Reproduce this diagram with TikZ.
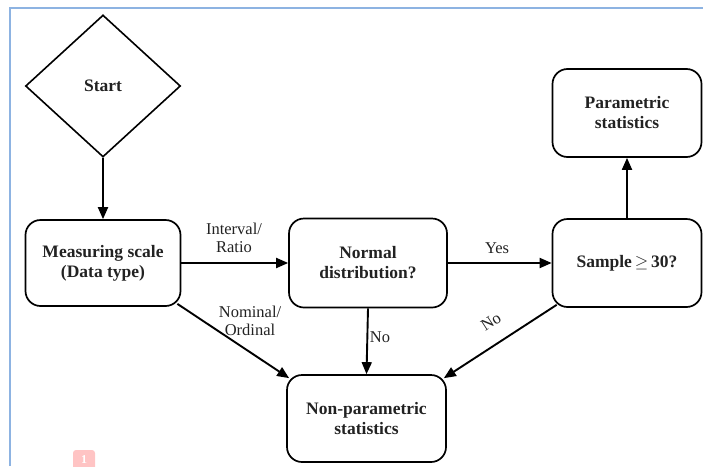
\documentclass[tikz,border=0pt]{standalone}
\usepackage{fontspec}
\setmainfont{Liberation Serif}
\usetikzlibrary{shapes.geometric,arrows.meta,calc}
\definecolor{txt}{HTML}{222222}
\definecolor{frameblue}{HTML}{8DB3E2}
\definecolor{badge}{HTML}{FFC4C4}
\begin{document}
\begin{tikzpicture}[x=1pt,y=-1pt,
  box/.style={draw=black,line width=1.7pt,rounded corners=15pt,align=center,
    font=\fontsize{17.5}{20}\selectfont\bfseries,text=txt,inner sep=0pt},
  startshape/.style={draw=black,line width=1.6pt,diamond,inner sep=0pt,
    minimum width=155pt,minimum height=142pt,font=\fontsize{17.5}{20}\selectfont\bfseries,text=txt},
  conn/.style={line width=1.9pt,-{Triangle[length=12pt,width=10pt]}},
  lbl/.style={font=\fontsize{16.5}{18.5}\selectfont,text=txt,align=center,inner sep=0pt}]
\useasboundingbox (0,0) rectangle (703,466);
% frame
\draw[frameblue,line width=2pt] (10,466) -- (10,8) -- (703,8);
% badge
\node[fill=badge,rounded corners=3pt,minimum width=22pt,minimum height=20pt,inner sep=0pt,
  text=white,font=\fontsize{12}{12}\selectfont\bfseries] (badge) at (84,460) {1};
% nodes
\node[startshape] (start) at (103,86) {Start};
\node[box,minimum width=155pt,minimum height=86pt] (meas) at (103,263) {Measuring scale\\(Data type)};
\node[box,minimum width=158pt,minimum height=89pt] (normal) at (368,263) {Normal\\distribution?};
\node[box,minimum width=149pt,minimum height=88pt] (sample) at (627,263) {Sample\,$\geq$\,30?};
\node[box,minimum width=149pt,minimum height=88pt] (param) at (627,113) {Parametric\\statistics};
\node[box,minimum width=159pt,minimum height=87pt] (nonpar) at (366.5,418.5) {Non-parametric\\statistics};
% connectors
\draw[conn] (start.south) -- (meas.north);
\draw[conn] (meas.east) -- (normal.west);
\draw[conn] (normal.east) -- (sample.west);
\draw[conn] (sample.north) -- (param.south);
\draw[conn] (normal.south) -- (nonpar.north);
\draw[conn] ($(meas.south east)+(-4,-3)$) -- ($(nonpar.north west)+(3,4)$);
\draw[conn] ($(sample.south west)+(5,-3)$) -- ($(nonpar.north east)+(-3,4)$);
% labels
\node[lbl] (l1) at (234,238) {Interval/\\Ratio};
\node[lbl] (l2) at (497,248) {Yes};
\node[lbl] (l3) at (250,321) {Nominal/\\Ordinal};
\node[lbl] (l4) at (380,337) {No};
\node[lbl,rotate=33] (l5) at (491,322) {No};
\end{tikzpicture}
\end{document}
